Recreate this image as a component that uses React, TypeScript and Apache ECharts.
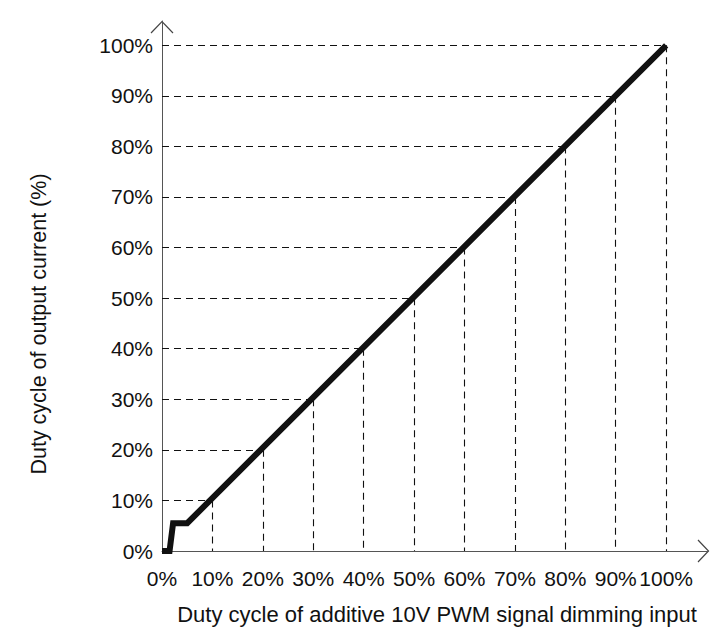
import React, { useEffect, useRef } from "react";
import * as echarts from "echarts";

// Dimming curve (x: PWM duty %, y: output current duty %)
const curveX = [0, 1.5, 2.2, 5, 100];
const curveY = [0, 0, 5.5, 5.5, 100];
// Reference drop-line levels
const refLevels = [10, 20, 30, 40, 50, 60, 70, 80, 90, 100];
const xTitle = "Duty cycle of additive 10V PWM signal dimming input";
const yTitle = "Duty cycle of output current (%)";

const FONT = "'Liberation Sans', Arial, Helvetica, sans-serif";

export default function App() {
  const ref = useRef<HTMLDivElement>(null);
  useEffect(() => {
    if (!ref.current) return;
    const chart = echarts.init(ref.current, null, { renderer: "svg" });
    const curve = curveX.map((x, i) => [x, curveY[i]]);
    const dropLines: any[] = [];
    refLevels.forEach((v) => {
      dropLines.push([{ coord: [0, v] }, { coord: [v, v] }]);
      dropLines.push([{ coord: [v, v] }, { coord: [v, 0] }]);
    });
    const fmt = (v: number) => (v % 10 === 0 && v <= 100 ? v + "%" : "");
    chart.setOption({
      animation: false,
      backgroundColor: "#ffffff",
      grid: { left: 162, right: 15, top: 21, bottom: 82 },
      xAxis: {
        type: "value",
        min: 0,
        max: 108.3,
        interval: 10,
        splitLine: { show: false },
        axisTick: { show: false },
        axisLine: { lineStyle: { color: "#555", width: 1 } },
        axisLabel: {
          formatter: fmt,
          showMaxLabel: false,
          color: "#111",
          fontFamily: FONT,
          fontSize: 21,
          margin: 17,
        },
      },
      yAxis: {
        type: "value",
        min: 0,
        max: 104.8,
        interval: 10,
        splitLine: { show: false },
        axisTick: { show: false },
        axisLine: { lineStyle: { color: "#555", width: 1 } },
        axisLabel: {
          formatter: fmt,
          showMaxLabel: false,
          color: "#111",
          fontFamily: FONT,
          fontSize: 21,
          margin: 9,
        },
      },
      series: [
        {
          type: "line",
          data: [],
          z: 1,
          silent: true,
          markLine: {
            silent: true,
            symbol: "none",
            label: { show: false },
            lineStyle: { color: "#111", width: 1.1, type: [7, 5] },
            emphasis: { disabled: true },
            data: dropLines,
          },
        },
        {
          type: "line",
          data: curve,
          z: 3,
          symbol: "none",
          silent: true,
          lineStyle: { color: "#111", width: 6, cap: "butt", join: "miter" },
        },
      ],
      graphic: [
        {
          type: "polyline",
          shape: { points: [[151, 33], [162, 21.5], [173, 33]] },
          style: { stroke: "#444", lineWidth: 1.2, fill: "none" },
        },
        {
          type: "polyline",
          shape: { points: [[698, 540], [708.5, 551], [698, 562]] },
          style: { stroke: "#444", lineWidth: 1.2, fill: "none" },
        },
        {
          type: "text",
          x: 437,
          y: 614,
          style: {
            text: xTitle,
            fontFamily: FONT,
            fontSize: 22,
            fill: "#111",
            align: "center",
            verticalAlign: "middle",
          },
        },
        {
          type: "text",
          x: 39,
          y: 324,
          rotation: Math.PI / 2,
          style: {
            text: yTitle,
            fontFamily: FONT,
            fontSize: 21.5,
            fill: "#111",
            align: "center",
            verticalAlign: "middle",
          },
        },
      ],
    });
    return () => chart.dispose();
  }, []);
  return (
    <div
      ref={ref}
      style={{ position: "fixed", left: 0, top: 0, width: 723, height: 633, background: "#fff" }}
    />
  );
}
